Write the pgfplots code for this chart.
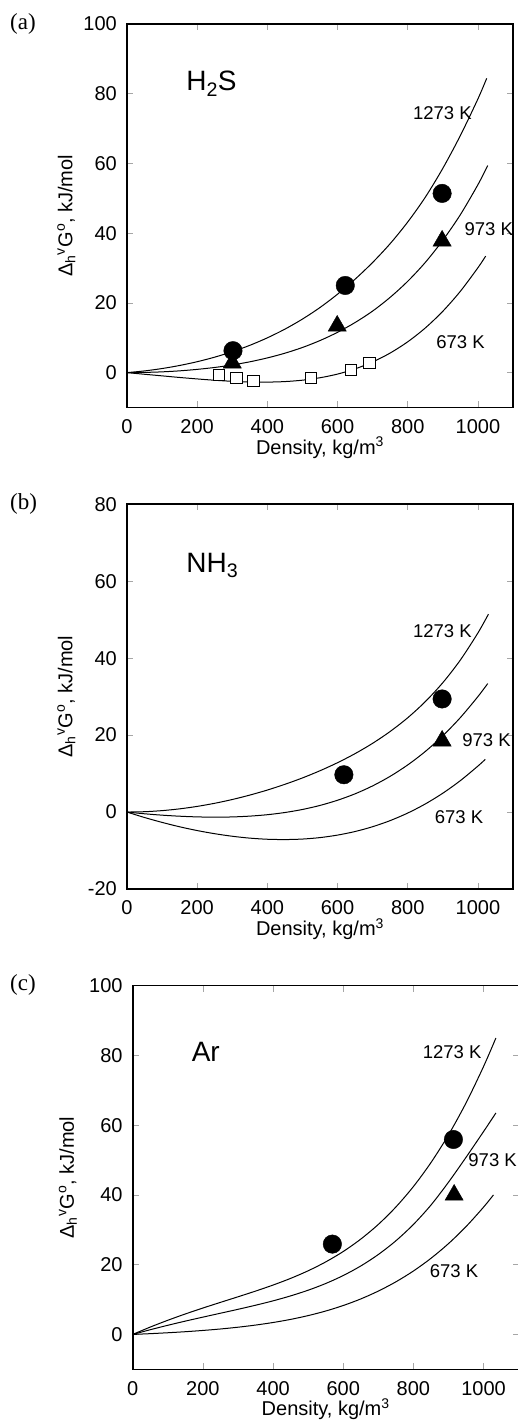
\documentclass[border=0pt]{standalone}
\usepackage{fontspec}
\setmainfont{Liberation Sans}
\newfontfamily\seriffont{Liberation Serif}
\usepackage{pgfplots}
\pgfplotsset{compat=1.18}
\pgfplotsset{
  curve/.style={black, line width=1pt, smooth, no markers},
  circ/.style={only marks, mark=*, mark size=9.25pt, mark options={fill=black, draw=black}},
  tri/.style={only marks, mark=triangle*, mark size=10.5pt, mark options={fill=black, draw=black}},
  sq/.style={only marks, mark=square*, mark size=5.6pt, mark options={fill=white, draw=black, line width=0.8pt}},
  panel/.style={
    scale only axis, width=386pt,
    xmin=0, xmax=1100,
    xtick={0,200,...,1000},
    tick align=inside,
    major tick length=6pt,
    major tick style={gray!70, line width=0.7pt},
    axis line style={line width=1.6pt},
    /pgf/number format/assume math mode=true,
    /pgf/number format/1000 sep={},
    tick label style={font=\fontsize{20}{24}\selectfont},
    x tick label style={anchor=center, inner sep=0pt, yshift=-19pt},
    y tick label style={anchor=east, inner sep=0pt, xshift=-10pt},
    xlabel={Density, kg/m\textsuperscript{3}},
    ylabel={Δ\textsubscript{h}\textsuperscript{v}G\textsuperscript{o}, kJ/mol},
    label style={font=\fontsize{20}{24}\selectfont},
    x label style={at={(axis description cs:0.5,0)}, anchor=center, yshift=-40pt},
    y label style={at={(axis description cs:-0.157,0.5)}, anchor=center},
    clip=false,
  },
}
\newcommand{\tlab}{\fontsize{18.5}{22}\selectfont}
\newcommand{\slab}{\fontsize{28}{32}\selectfont}
\begin{document}
\begin{tikzpicture}
\useasboundingbox (0,0) rectangle (517pt,1423pt);
% ---------------- (a) H2S
\begin{axis}[panel, at={(127pt,1015.5pt)}, anchor=south west, height=383.5pt,
  ymin=-10, ymax=100, ytick={0,20,...,100}]
\addplot[curve] coordinates {(0,0)(50,0.49)(100,1.17)(150,2.05)(200,3.13)(250,4.44)(300,6.0)(350,7.83)(400,9.98)(450,12.47)(500,15.36)(550,18.68)(600,22.5)(650,26.8)(700,31.6)(750,37.0)(800,43.2)(850,50.3)(900,58.6)(950,68.0)(1000,78.5)(1025,84.4)};
\addplot[curve] coordinates {(0,0)(50,0.06)(100,0.22)(150,0.51)(200,0.93)(250,1.48)(300,2.2)(350,3.1)(400,4.22)(450,5.57)(500,7.21)(550,9.2)(600,11.56)(650,14.37)(700,17.66)(750,21.6)(800,26.2)(850,31.6)(900,37.96)(950,45.3)(1000,53.9)(1028,59.4)};
\addplot[curve] coordinates {(0,0)(50,-0.47)(100,-0.93)(150,-1.39)(200,-1.81)(250,-2.19)(300,-2.49)(350,-2.68)(400,-2.72)(450,-2.57)(500,-2.17)(550,-1.47)(600,-0.42)(650,1.07)(700,3.06)(750,5.62)(800,8.84)(850,12.8)(900,17.6)(950,23.33)(1000,30.08)(1022,33.4)};
\addplot[sq] coordinates {(261,-0.6)(312,-1.6)(360,-2.3)(523,-1.6)(637,0.7)(691,2.7)};
\addplot[tri] coordinates {(300,2.8)(599,13.4)(898,37.8)};
\addplot[circ] coordinates {(302,6.3)(622,25)(898,51.4)};
\node[anchor=base west, font=\slab] at (axis cs:159,80.8) {H\textsubscript{2}S};
\node[anchor=base west, font=\tlab] at (axis cs:805,72.7) {1273 K};
\node[anchor=base west, font=\tlab] at (axis cs:952,39.3) {973 K};
\node[anchor=base west, font=\tlab] at (axis cs:871.5,6.8) {673 K};
\end{axis}
% ---------------- (b) NH3
\begin{axis}[panel, at={(127pt,534pt)}, anchor=south west, height=384.7pt,
  ymin=-20, ymax=80, ytick={-20,0,...,80}]
\addplot[curve] coordinates {(0,0)(50,0.09)(100,0.37)(150,0.83)(200,1.47)(250,2.28)(300,3.26)(350,4.41)(400,5.72)(450,7.21)(500,8.87)(550,10.74)(600,12.83)(650,15.19)(700,17.87)(750,20.95)(800,24.51)(850,28.69)(900,33.63)(950,39.52)(1000,46.55)(1030,51.44)};
\addplot[curve] coordinates {(0,0)(50,-0.45)(100,-0.81)(150,-1.08)(200,-1.26)(250,-1.33)(300,-1.27)(350,-1.06)(400,-0.69)(450,-0.12)(500,0.67)(550,1.72)(600,3.07)(650,4.74)(700,6.8)(750,9.29)(800,12.25)(850,15.74)(900,19.83)(950,24.56)(1000,30.01)(1028,33.4)};
\addplot[curve] coordinates {(0,0)(50,-1.42)(100,-2.69)(150,-3.83)(200,-4.81)(250,-5.63)(300,-6.29)(350,-6.78)(400,-7.07)(450,-7.15)(500,-7.02)(550,-6.64)(600,-5.99)(650,-5.06)(700,-3.81)(750,-2.22)(800,-0.26)(850,2.1)(900,4.9)(950,8.17)(1000,11.95)(1021,13.7)};
\addplot[tri] coordinates {(898,18.5)};
\addplot[circ] coordinates {(618,9.7)(898,29.4)};
\node[anchor=base west, font=\slab] at (axis cs:159,62.3) {NH\textsubscript{3}};
\node[anchor=base west, font=\tlab] at (axis cs:805,45.5) {1273 K};
\node[anchor=base west, font=\tlab] at (axis cs:945.5,17.1) {973 K};
\node[anchor=base west, font=\tlab] at (axis cs:867,-3.0) {673 K};
\end{axis}
% ---------------- (c) Ar
\begin{axis}[panel, at={(132.7pt,53.7pt)}, anchor=south west, height=383.6pt,
  ymin=-10, ymax=100, ytick={0,20,...,100},
  y label style={at={(axis description cs:-0.168,0.5)}}]
\addplot[curve] coordinates {(0,0)(50,2.11)(100,4.06)(150,5.87)(200,7.57)(250,9.19)(300,10.79)(350,12.42)(400,14.16)(450,16.07)(500,18.25)(550,20.79)(600,23.78)(650,27.34)(700,31.55)(750,36.54)(800,42.41)(850,49.28)(900,57.24)(950,66.4)(1000,76.86)(1035,85)};
\addplot[curve] coordinates {(0,0)(50,1.35)(100,2.62)(150,3.82)(200,4.96)(250,6.08)(300,7.2)(350,8.37)(400,9.63)(450,11.05)(500,12.68)(550,14.6)(600,16.89)(650,19.63)(700,22.92)(750,26.85)(800,31.54)(850,37.1)(900,43.66)(950,50.8)(1000,58.2)(1035,63.5)};
\addplot[curve] coordinates {(0,0)(50,0.22)(100,0.48)(150,0.78)(200,1.14)(250,1.56)(300,2.07)(350,2.68)(400,3.42)(450,4.31)(500,5.4)(550,6.71)(600,8.29)(650,10.18)(700,12.43)(750,15.08)(800,18.19)(850,21.83)(900,26.05)(950,30.93)(1000,36.52)(1028,40)};
\addplot[tri] coordinates {(916,40.0)};
\addplot[circ] coordinates {(569,25.9)(914,55.9)};
\node[anchor=base west, font=\slab] at (axis cs:158.4,78.2) {Ar};
\node[anchor=base west, font=\tlab] at (axis cs:816.5,79.2) {1273 K};
\node[anchor=base west, font=\tlab] at (axis cs:946.7,48.1) {973 K};
\node[anchor=base west, font=\tlab] at (axis cs:836.6,16.2) {673 K};
\end{axis}
% panel letters
\node[anchor=base west, inner sep=0pt, font=\seriffont\fontsize{23}{27}\selectfont] at (10pt,1393.7pt) {(a)};
\node[anchor=base west, inner sep=0pt, font=\seriffont\fontsize{23}{27}\selectfont] at (10pt,913.7pt) {(b)};
\node[anchor=base west, inner sep=0pt, font=\seriffont\fontsize{23}{27}\selectfont] at (10pt,432pt) {(c)};
\end{tikzpicture}
\end{document}
